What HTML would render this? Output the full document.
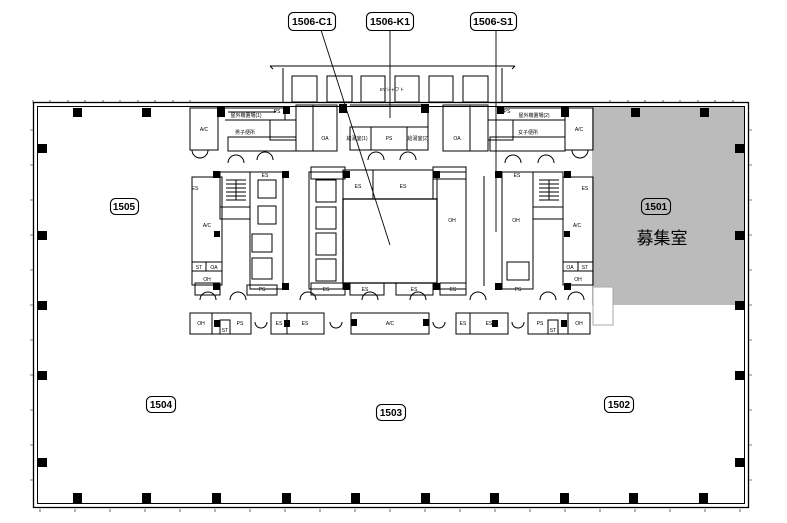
<!DOCTYPE html>
<html><head><meta charset="utf-8"><style>
html,body{margin:0;padding:0;background:#fff;width:787px;height:523px;overflow:hidden}
svg{display:block}
text{font-family:"Liberation Sans","Noto Sans CJK JP",sans-serif}
.s{font-size:5px;text-anchor:middle}
.l{font-size:10px;text-anchor:middle;font-weight:bold;font-family:"Liberation Sans Narrow","Liberation Sans",sans-serif}
</style></head><body>
<svg width="787" height="523" viewBox="0 0 787 523" xmlns="http://www.w3.org/2000/svg" fill="none" stroke="#000" stroke-width="1">
<rect x="592" y="107" width="153" height="198" fill="#bbb" stroke="none"/>
<rect x="593" y="287" width="20" height="38" fill="#fff" stroke="#aaa"/>
<rect x="33.5" y="102.5" width="715" height="405" stroke-width="1.3"/>
<rect x="37.5" y="106.5" width="707" height="397"/>
<g stroke-width="0.6">
<path d="M33 100v3M50 100v3M68 100v3M85 100v3M103 100v3M120 100v3M138 100v3M155 100v3M173 100v3M190 100v3M610 100v3M628 100v3M645 100v3M663 100v3M680 100v3M698 100v3M715 100v3M733 100v3"/>
<path d="M40 509v3M75 509v3M110 509v3M145 509v3M180 509v3M215 509v3M250 509v3M285 509v3M320 509v3M355 509v3M390 509v3M425 509v3M460 509v3M495 509v3M530 509v3M565 509v3M600 509v3M635 509v3M670 509v3M705 509v3M740 509v3"/>
<path d="M30 130h3M30 165h3M30 200h3M30 235h3M30 270h3M30 305h3M30 340h3M30 375h3M30 410h3M30 445h3M30 480h3M749 130h3M749 165h3M749 200h3M749 235h3M749 270h3M749 305h3M749 340h3M749 375h3M749 410h3M749 445h3M749 480h3"/>
</g>
<g fill="#000" stroke="none">
<rect x="73" y="108" width="9" height="9"/><rect x="142" y="108" width="9" height="9"/>
<rect x="631" y="108" width="9" height="9"/><rect x="700" y="108" width="9" height="9"/>
<rect x="38" y="144" width="9" height="9"/><rect x="38" y="231" width="9" height="9"/>
<rect x="38" y="301" width="9" height="9"/><rect x="38" y="371" width="9" height="9"/><rect x="38" y="458" width="9" height="9"/>
<rect x="735" y="144" width="9" height="9"/><rect x="735" y="231" width="9" height="9"/>
<rect x="735" y="301" width="9" height="9"/><rect x="735" y="371" width="9" height="9"/><rect x="735" y="458" width="9" height="9"/>
<rect x="73" y="493" width="9" height="10"/><rect x="142" y="493" width="9" height="10"/><rect x="212" y="493" width="9" height="10"/>
<rect x="282" y="493" width="9" height="10"/><rect x="351" y="493" width="9" height="10"/><rect x="421" y="493" width="9" height="10"/>
<rect x="490" y="493" width="9" height="10"/><rect x="560" y="493" width="9" height="10"/><rect x="629" y="493" width="9" height="10"/><rect x="699" y="493" width="9" height="10"/>
<rect x="217" y="107" width="8" height="10"/><rect x="561" y="107" width="8" height="10"/>
<rect x="339" y="104" width="8" height="9"/><rect x="421" y="104" width="8" height="9"/>
<rect x="283" y="107" width="7" height="7"/><rect x="497" y="107" width="7" height="7"/>
<rect x="213" y="171" width="7" height="7"/><rect x="282" y="171" width="7" height="7"/>
<rect x="343" y="171" width="7" height="7"/><rect x="433" y="171" width="7" height="7"/>
<rect x="495" y="171" width="7" height="7"/><rect x="564" y="171" width="7" height="7"/>
<rect x="213" y="283" width="7" height="7"/><rect x="282" y="283" width="7" height="7"/>
<rect x="343" y="283" width="7" height="7"/><rect x="433" y="283" width="7" height="7"/>
<rect x="495" y="283" width="7" height="7"/><rect x="564" y="283" width="7" height="7"/>
<rect x="214" y="320" width="6" height="7"/><rect x="284" y="320" width="6" height="7"/><rect x="351" y="319" width="6" height="7"/>
<rect x="423" y="319" width="6" height="7"/><rect x="492" y="320" width="6" height="7"/><rect x="561" y="320" width="6" height="7"/>
<rect x="214" y="231" width="6" height="6"/><rect x="564" y="231" width="6" height="6"/>
</g>
<path d="M270 66h245M270 66l3 3M515 66l-3 3M283 68v34M502 68v34"/>
<g stroke-width="1">
<rect x="292" y="76" width="25" height="26"/><rect x="327" y="76" width="25" height="26"/><rect x="361" y="76" width="24" height="26"/>
<rect x="395" y="76" width="24" height="26"/><rect x="429" y="76" width="24" height="26"/><rect x="463" y="76" width="25" height="26"/>
</g>
<text class="s" x="392" y="91" fill="#000" stroke="none" style="font-size:4.5px">EVシャフト</text>
<g stroke-width="1">
<rect x="190" y="108" width="28" height="42"/>
<path d="M225 108h60v12h-60M228 112h48"/>
<rect x="228" y="137" width="68" height="14"/>
<rect x="270" y="120" width="26" height="20"/>
<rect x="296" y="105" width="41" height="46"/><path d="M313 105v46"/>
<rect x="350" y="127" width="78" height="23"/><path d="M371 127v23M407 127v23M350 105h78v22"/>
<rect x="443" y="105" width="45" height="46"/><path d="M470 105v46"/>
<rect x="488" y="120" width="25" height="20"/>
<path d="M500 108h65v12h-65"/>
<rect x="490" y="137" width="75" height="14"/>
<rect x="565" y="108" width="28" height="42"/>
<rect x="192" y="177" width="30" height="85"/><rect x="192" y="262" width="14" height="9"/><rect x="206" y="262" width="16" height="9"/><rect x="192" y="271" width="30" height="14"/>
<rect x="220" y="172" width="30" height="35"/><rect x="220" y="207" width="30" height="12"/>
<rect x="250" y="172" width="33" height="117"/>
<rect x="258" y="180" width="18" height="18"/><rect x="258" y="206" width="18" height="18"/>
<rect x="252" y="234" width="20" height="18"/><rect x="252" y="258" width="20" height="21"/>
<path d="M226 180h20M226 184h20M226 188h20M226 192h20M226 196h20M226 200h20M236 180v20"/>
<rect x="309" y="172" width="34" height="117"/>
<rect x="316" y="180" width="20" height="22"/><rect x="316" y="207" width="20" height="22"/><rect x="316" y="233" width="20" height="22"/><rect x="316" y="259" width="20" height="22"/>
<rect x="343" y="170" width="30" height="29"/><rect x="373" y="170" width="60" height="29"/>
<rect x="343" y="199" width="94" height="84" stroke-width="1.3"/>
<rect x="437" y="172" width="29" height="117"/>
<rect x="311" y="283" width="34" height="12"/><rect x="350" y="283" width="34" height="12"/><rect x="396" y="283" width="37" height="12"/><rect x="440" y="283" width="26" height="12"/>
<rect x="195" y="283" width="25" height="12"/><rect x="247" y="285" width="30" height="10"/>
<rect x="311" y="167" width="34" height="12"/><rect x="433" y="167" width="33" height="12"/>
<rect x="502" y="172" width="31" height="117"/>
<rect x="533" y="172" width="30" height="35"/><rect x="533" y="207" width="30" height="12"/>
<rect x="507" y="262" width="22" height="18"/>
<path d="M539 180h20M539 184h20M539 188h20M539 192h20M539 196h20M539 200h20M549 180v20"/>
<rect x="563" y="177" width="30" height="85"/><rect x="563" y="262" width="15" height="9"/><rect x="578" y="262" width="15" height="9"/><rect x="563" y="271" width="30" height="14"/>
<path d="M484 176v110"/>
<rect x="190" y="313" width="22" height="21"/><rect x="212" y="313" width="39" height="21"/><rect x="220" y="320" width="10" height="14"/>
<rect x="271" y="313" width="16" height="21"/><rect x="287" y="313" width="37" height="21"/>
<rect x="351" y="313" width="78" height="21"/>
<rect x="456" y="313" width="14" height="21"/><rect x="470" y="313" width="38" height="21"/>
<rect x="528" y="313" width="40" height="21"/><rect x="548" y="320" width="10" height="14"/><rect x="568" y="313" width="22" height="21"/>
<path d="M228 163a8 8 0 0 1 16 0M257 160a8 8 0 0 1 16 0M400 160a8 8 0 0 1 16 0M368 160a8 8 0 0 1 16 0M505 163a8 8 0 0 1 16 0M538 163a8 8 0 0 1 16 0M200 300a8 8 0 0 1 16 0M230 300a8 8 0 0 1 16 0M300 300a8 8 0 0 1 16 0M362 300a8 8 0 0 1 16 0M410 300a8 8 0 0 1 16 0M470 300a8 8 0 0 1 16 0M540 300a8 8 0 0 1 16 0M568 300a8 8 0 0 1 16 0M255 322a6 6 0 0 0 12 0M330 322a6 6 0 0 0 12 0M433 322a6 6 0 0 0 12 0M512 322a6 6 0 0 0 12 0M192 150a8 8 0 0 0 16 0M572 150a8 8 0 0 0 16 0"/>
</g>
<g fill="#000" stroke="none" class="s">
<text class="s" x="204" y="131">A/C</text><text class="s" x="579" y="131">A/C</text>
<text class="s" x="246" y="117">屋外機置場(1)</text><text class="s" x="534" y="117">屋外機置場(2)</text>
<text class="s" x="245" y="134">男子便所</text><text class="s" x="528" y="134">女子便所</text>
<text class="s" x="277" y="113">PS</text><text class="s" x="507" y="113">PS</text>
<text class="s" x="325" y="140">OA</text><text class="s" x="457" y="140">OA</text>
<text class="s" x="357" y="140">給湯室(1)</text><text class="s" x="389" y="140">PS</text><text class="s" x="418" y="140">給湯室(2)</text>
<text class="s" x="195" y="190">ES</text><text class="s" x="585" y="190">ES</text>
<text class="s" x="207" y="227">A/C</text><text class="s" x="577" y="227">A/C</text>
<text class="s" x="199" y="269">ST</text><text class="s" x="214" y="269">OA</text><text class="s" x="207" y="281">OH</text>
<text class="s" x="570" y="269">OA</text><text class="s" x="585" y="269">ST</text><text class="s" x="578" y="281">OH</text>
<text class="s" x="265" y="177">ES</text><text class="s" x="517" y="177">ES</text>
<text class="s" x="358" y="188">ES</text><text class="s" x="403" y="188">ES</text>
<text class="s" x="452" y="222">OH</text><text class="s" x="516" y="222">OH</text>
<text class="s" x="326" y="291">ES</text><text class="s" x="365" y="291">ES</text><text class="s" x="414" y="291">ES</text><text class="s" x="453" y="291">ES</text>
<text class="s" x="201" y="325">OH</text><text class="s" x="240" y="325">PS</text><text class="s" x="225" y="332">ST</text>
<text class="s" x="279" y="325">ES</text><text class="s" x="305" y="325">ES</text><text class="s" x="390" y="325">A/C</text>
<text class="s" x="463" y="325">ES</text><text class="s" x="489" y="325">ES</text>
<text class="s" x="540" y="325">PS</text><text class="s" x="553" y="332">ST</text><text class="s" x="579" y="325">OH</text>
<text class="s" x="262" y="291">PS</text><text class="s" x="518" y="291">PS</text>
</g>
<path d="M321 30L390 245M390 30V118M496 30V232" stroke-width="0.9"/>
<g stroke-width="1.1">
<rect x="288.5" y="12.5" width="47" height="18" rx="5" fill="#fff"/>
<rect x="366.5" y="12.5" width="47" height="18" rx="5" fill="#fff"/>
<rect x="470.5" y="12.5" width="46" height="18" rx="5" fill="#fff"/>
<rect x="110.5" y="198.5" width="28" height="16" rx="5" fill="#fff"/>
<rect x="641.5" y="198.5" width="29" height="16" rx="5"/>
<rect x="146.5" y="396.5" width="29" height="16" rx="5" fill="#fff"/>
<rect x="376.5" y="404.5" width="29" height="16" rx="5" fill="#fff"/>
<rect x="604.5" y="396.5" width="29" height="16" rx="5" fill="#fff"/>
</g>
<g fill="#000" stroke="none">
<text class="l" x="312" y="25" textLength="40" lengthAdjust="spacingAndGlyphs">1506-C1</text>
<text class="l" x="390" y="25" textLength="40" lengthAdjust="spacingAndGlyphs">1506-K1</text>
<text class="l" x="493" y="25" textLength="40" lengthAdjust="spacingAndGlyphs">1506-S1</text>
<text class="l" x="124" y="210">1505</text>
<text class="l" x="656" y="210">1501</text>
<text class="l" x="161" y="408">1504</text>
<text class="l" x="391" y="416">1503</text>
<text class="l" x="619" y="408">1502</text>
<text x="662" y="244" style="font-size:17px;text-anchor:middle;font-family:'Noto Sans CJK JP',sans-serif">募集室</text>
</g>
</svg>
</body></html>
